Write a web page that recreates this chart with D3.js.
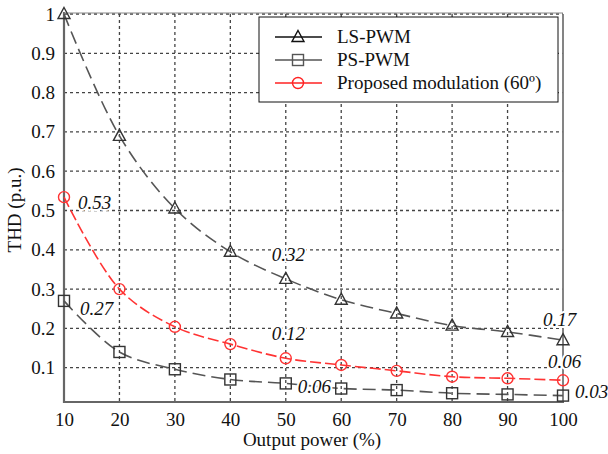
<!DOCTYPE html>
<html><head><meta charset="utf-8">
<script src="https://cdn.jsdelivr.net/npm/d3@7"></script>
<style>body{margin:0;background:#fff}svg{display:block}</style>
</head><body><svg id="c" width="608" height="454"></svg>
<script>
const power = [10,20,30,40,50,60,70,80,90,100];
const lsPwm = [1.0,0.69,0.505,0.395,0.326,0.273,0.238,0.207,0.191,0.17];
const psPwm = [0.27,0.14,0.096,0.07,0.06,0.047,0.043,0.035,0.032,0.029];
const proposed = [0.534,0.30,0.204,0.16,0.124,0.107,0.092,0.077,0.073,0.068];
const yTicks = [0.1,0.2,0.3,0.4,0.5,0.6,0.7,0.8,0.9,1];
const xTicks = [10,20,30,40,50,60,70,80,90,100];
const seriesNames = ["LS-PWM","PS-PWM","Proposed modulation (60º)"];
const annotations = [
  {x:10,y:0.534,t:"0.53",dx:14,dy:12},
  {x:10,y:0.27,t:"0.27",dx:16,dy:14},
  {x:50,y:0.326,t:"0.32",dx:-14,dy:-18},
  {x:50,y:0.124,t:"0.12",dx:-14,dy:-18},
  {x:50,y:0.06,t:"0.06",dx:12,dy:10},
  {x:100,y:0.17,t:"0.17",dx:-20,dy:-14},
  {x:100,y:0.068,t:"0.06",dx:-15,dy:-12},
  {x:100,y:0.029,t:"0.03",dx:12,dy:2}
];
const FONT='"Liberation Serif"';
const FS=19;

const svg = d3.select("#c");
const L=64,R=563,T=14,B=402;
const x = d3.scaleLinear().domain([10,100]).range([L,R]);
const y = d3.scaleLinear().domain([0.0127,1]).range([B,T]);

const g = svg.append("g");
g.selectAll(".hg").data(yTicks).enter().append("line")
 .attr("x1",L).attr("x2",R).attr("y1",d=>y(d)).attr("y2",d=>y(d))
 .attr("stroke","#444").attr("stroke-width",1.3).attr("stroke-dasharray","3,3");
g.selectAll(".vg").data(xTicks.slice(1,-1)).enter().append("line")
 .attr("x1",d=>x(d)).attr("x2",d=>x(d)).attr("y1",T).attr("y2",B)
 .attr("stroke","#444").attr("stroke-width",1.3).attr("stroke-dasharray","3,3");

const ya = d3.axisLeft(y).tickValues(yTicks).tickFormat(d=>d===1?"1":d3.format(".1f")(d)).tickSize(0).tickPadding(9);
const yg = svg.append("g").attr("transform",`translate(${L},0)`).call(ya);
const xa = d3.axisBottom(x).tickValues(xTicks).tickSize(0).tickPadding(11);
const xg = svg.append("g").attr("transform",`translate(0,${B})`).call(xa);
[yg,xg].forEach(a=>{a.select(".domain").remove();a.selectAll("text").attr("font-size",FS).attr("fill","#111").style("font-family",FONT);});
svg.append("line").attr("x1",L).attr("x2",L).attr("y1",T-2).attr("y2",B+1).attr("stroke","#666").attr("stroke-width",2.2);
svg.append("line").attr("x1",L).attr("x2",R+1).attr("y1",B).attr("y2",B).attr("stroke","#666").attr("stroke-width",2.2);
svg.append("line").attr("x1",R).attr("x2",R).attr("y1",T).attr("y2",B).attr("stroke","#777").attr("stroke-width",1.8);
svg.append("line").attr("x1",L).attr("x2",R).attr("y1",T-1).attr("y2",T-1).attr("stroke","#888").attr("stroke-width",1);

svg.append("text").attr("x",312).attr("y",446).attr("text-anchor","middle").attr("font-size",FS).attr("fill","#111").style("font-family",FONT).text("Output power (%)");
svg.append("text").attr("transform","translate(21,210) rotate(-90)").attr("text-anchor","middle").attr("font-size",FS).attr("fill","#111").style("font-family",FONT).text("THD (p.u.)");

const line = d3.line().x((d,i)=>x(power[i])).y(d=>y(d)).curve(d3.curveCatmullRom);
const series = [
 {v:lsPwm,c:"#555",mc:"#333",dash:"13,6",m:"tri"},
 {v:psPwm,c:"#555",mc:"#333",dash:"13,6",m:"sq"},
 {v:proposed,c:"#ff3333",mc:"#ff3333",dash:"11,4",m:"circ"}
];
function marker(sel,type,color){
  if(type==="tri") sel.append("path").attr("d","M0,-6.5L6,4.5L-6,4.5Z");
  else if(type==="sq") sel.append("rect").attr("x",-5.5).attr("y",-5.5).attr("width",11).attr("height",11);
  else sel.append("circle").attr("r",5.5);
  sel.selectAll("*").attr("fill","none").attr("stroke",color).attr("stroke-width",1.4);
}
series.forEach(s=>{
  svg.append("path").attr("d",line(s.v)).attr("fill","none").attr("stroke",s.c).attr("stroke-width",1.6).attr("stroke-dasharray",s.dash);
  s.v.forEach((v,i)=>{
    const m=svg.append("g").attr("transform",`translate(${x(power[i])},${y(v)})`);
    marker(m,s.m,s.mc);
  });
});

annotations.forEach(a=>{
  svg.append("text").attr("x",x(a.x)+a.dx).attr("y",y(a.y)+a.dy).attr("font-size",FS).attr("font-style","italic").attr("fill","#111")
   .attr("stroke","#fff").attr("stroke-width",4).attr("paint-order","stroke").style("font-family",FONT).text(a.t);
});

const lg = svg.append("g");
lg.append("rect").attr("x",259).attr("y",17).attr("width",299).attr("height",85).attr("fill","#fff").attr("stroke","#111").attr("stroke-width",1);
const lcol=["#111","#555","#ff2222"];
seriesNames.forEach((n,i)=>{
  const yy=37+i*23;
  lg.append("line").attr("x1",275).attr("x2",322).attr("y1",yy).attr("y2",yy).attr("stroke",lcol[i]).attr("stroke-width",1.3);
  const m=lg.append("g").attr("transform",`translate(298,${yy})`);
  marker(m,series[i].m,lcol[i]);
  lg.append("text").attr("x",337).attr("y",yy+6).attr("font-size",FS).attr("fill","#111").style("font-family",FONT).text(n);
});
</script></body></html>
